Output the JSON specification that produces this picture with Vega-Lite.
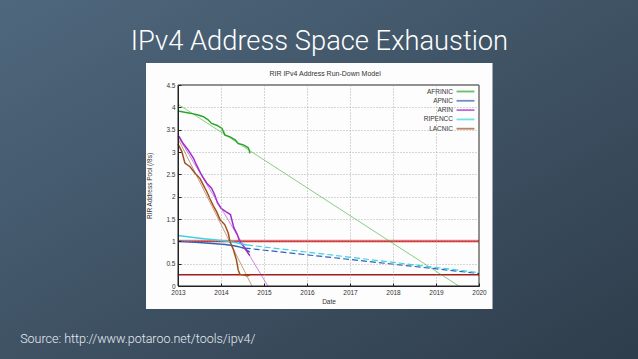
{
  "$schema": "https://vega.github.io/schema/vega-lite/v6.json",
  "width": 301,
  "height": 201,
  "autosize": "none",
  "padding": {"left": 178, "top": 85, "right": 159, "bottom": 73},
  "background": "#3e5366",
  "config": {
    "view": {"stroke": null, "fill": null},
    "font": "Liberation Sans",
    "axis": {
      "domainColor": "#222",
      "domainWidth": 1,
      "tickColor": "#222",
      "tickSize": -3,
      "labelFontSize": 6.5,
      "labelColor": "#333",
      "labelFont": "Liberation Sans",
      "labelOverlap": false,
      "labelFlush": false,
      "titleFont": "Liberation Sans",
      "titleFontSize": 6.5,
      "titleFontWeight": "normal",
      "titleColor": "#333",
      "grid": true,
      "gridColor": "#9a9a9a",
      "gridDash": [1, 2],
      "gridWidth": 0.8,
      "labelPadding": 4
    },
    "legend": {
      "symbolType": "M-4,0H4",
      "symbolSize": 20,
      "symbolStrokeWidth": 1.8,
      "rowPadding": 0.3,
      "labelAlign": "right",
      "labelOffset": -16,
      "labelFontSize": 6.5,
      "labelColor": "#333",
      "labelFont": "Liberation Sans",
      "padding": 0
    }
  },
  "datasets": {
    "actual": [
      {"series": "AFRINIC", "year": 2013.0, "pool": 3.92},
      {"series": "AFRINIC", "year": 2013.28, "pool": 3.87},
      {"series": "AFRINIC", "year": 2013.47, "pool": 3.83},
      {"series": "AFRINIC", "year": 2013.59, "pool": 3.79},
      {"series": "AFRINIC", "year": 2013.7, "pool": 3.72},
      {"series": "AFRINIC", "year": 2013.78, "pool": 3.64},
      {"series": "AFRINIC", "year": 2013.9, "pool": 3.6},
      {"series": "AFRINIC", "year": 2014.02, "pool": 3.53},
      {"series": "AFRINIC", "year": 2014.06, "pool": 3.45},
      {"series": "AFRINIC", "year": 2014.09, "pool": 3.38},
      {"series": "AFRINIC", "year": 2014.21, "pool": 3.34},
      {"series": "AFRINIC", "year": 2014.33, "pool": 3.27},
      {"series": "AFRINIC", "year": 2014.4, "pool": 3.19},
      {"series": "AFRINIC", "year": 2014.52, "pool": 3.16},
      {"series": "AFRINIC", "year": 2014.63, "pool": 3.1},
      {"series": "AFRINIC", "year": 2014.66, "pool": 3.03},
      {"series": "AFRINIC", "year": 2014.67, "pool": 2.97},
      {"series": "APNIC", "year": 2013.0, "pool": 1.0},
      {"series": "APNIC", "year": 2013.4, "pool": 0.98},
      {"series": "APNIC", "year": 2013.8, "pool": 0.95},
      {"series": "APNIC", "year": 2014.1, "pool": 0.93},
      {"series": "APNIC", "year": 2014.3, "pool": 0.9},
      {"series": "APNIC", "year": 2014.45, "pool": 0.87},
      {"series": "APNIC", "year": 2014.55, "pool": 0.84},
      {"series": "APNIC", "year": 2014.6, "pool": 0.8},
      {"series": "APNIC", "year": 2014.67, "pool": 0.76},
      {"series": "ARIN", "year": 2013.0, "pool": 3.36},
      {"series": "ARIN", "year": 2013.03, "pool": 3.34},
      {"series": "ARIN", "year": 2013.12, "pool": 3.19},
      {"series": "ARIN", "year": 2013.24, "pool": 3.04},
      {"series": "ARIN", "year": 2013.36, "pool": 2.86},
      {"series": "ARIN", "year": 2013.43, "pool": 2.71},
      {"series": "ARIN", "year": 2013.55, "pool": 2.48},
      {"series": "ARIN", "year": 2013.67, "pool": 2.3},
      {"series": "ARIN", "year": 2013.78, "pool": 2.19},
      {"series": "ARIN", "year": 2013.85, "pool": 2.05},
      {"series": "ARIN", "year": 2013.92, "pool": 1.86},
      {"series": "ARIN", "year": 2014.0, "pool": 1.74},
      {"series": "ARIN", "year": 2014.12, "pool": 1.66},
      {"series": "ARIN", "year": 2014.22, "pool": 1.6},
      {"series": "ARIN", "year": 2014.26, "pool": 1.45},
      {"series": "ARIN", "year": 2014.3, "pool": 1.3},
      {"series": "ARIN", "year": 2014.38, "pool": 1.15},
      {"series": "ARIN", "year": 2014.44, "pool": 0.98},
      {"series": "ARIN", "year": 2014.5, "pool": 0.92},
      {"series": "ARIN", "year": 2014.56, "pool": 0.84},
      {"series": "ARIN", "year": 2014.62, "pool": 0.75},
      {"series": "ARIN", "year": 2014.67, "pool": 0.68},
      {"series": "RIPENCC", "year": 2013.0, "pool": 1.13},
      {"series": "RIPENCC", "year": 2013.5, "pool": 1.07},
      {"series": "RIPENCC", "year": 2014.0, "pool": 1.02},
      {"series": "RIPENCC", "year": 2014.3, "pool": 0.98},
      {"series": "RIPENCC", "year": 2014.6, "pool": 0.92},
      {"series": "LACNIC", "year": 2013.0, "pool": 3.18},
      {"series": "LACNIC", "year": 2013.01, "pool": 3.16},
      {"series": "LACNIC", "year": 2013.09, "pool": 3.01},
      {"series": "LACNIC", "year": 2013.16, "pool": 2.75},
      {"series": "LACNIC", "year": 2013.28, "pool": 2.67},
      {"series": "LACNIC", "year": 2013.4, "pool": 2.52},
      {"series": "LACNIC", "year": 2013.51, "pool": 2.41},
      {"series": "LACNIC", "year": 2013.59, "pool": 2.26},
      {"series": "LACNIC", "year": 2013.67, "pool": 2.11},
      {"series": "LACNIC", "year": 2013.74, "pool": 1.96},
      {"series": "LACNIC", "year": 2013.82, "pool": 1.8},
      {"series": "LACNIC", "year": 2013.9, "pool": 1.66},
      {"series": "LACNIC", "year": 2013.98, "pool": 1.48},
      {"series": "LACNIC", "year": 2014.09, "pool": 1.37},
      {"series": "LACNIC", "year": 2014.17, "pool": 1.18},
      {"series": "LACNIC", "year": 2014.21, "pool": 0.99},
      {"series": "LACNIC", "year": 2014.29, "pool": 0.81},
      {"series": "LACNIC", "year": 2014.36, "pool": 0.58},
      {"series": "LACNIC", "year": 2014.4, "pool": 0.36},
      {"series": "LACNIC", "year": 2014.44, "pool": 0.26},
      {"series": "LACNIC", "year": 2014.52, "pool": 0.25},
      {"series": "LACNIC", "year": 2014.6, "pool": 0.23},
      {"series": "LACNIC", "year": 2014.67, "pool": 0.24}
    ],
    "fit": [
      {"series": "AFRINIC", "year": 2013.0, "pool": 4.07},
      {"series": "AFRINIC", "year": 2019.53, "pool": 0},
      {"series": "ARIN", "year": 2013.0, "pool": 3.35},
      {"series": "ARIN", "year": 2015.09, "pool": 0},
      {"series": "LACNIC", "year": 2013.0, "pool": 3.3},
      {"series": "LACNIC", "year": 2014.72, "pool": 0}
    ],
    "proj": [
      {"series": "APNIC", "year": 2014.55, "pool": 0.85},
      {"series": "APNIC", "year": 2020.0, "pool": 0.28},
      {"series": "RIPENCC", "year": 2014.6, "pool": 0.92},
      {"series": "RIPENCC", "year": 2020.0, "pool": 0.3}
    ]
  },
  "layer": [
    {
      "data": {"values": [{}]},
      "mark": {
        "type": "rect",
        "fill": {
          "gradient": "linear", "x1": 0, "y1": 0, "x2": 1, "y2": 1,
          "stops": [{"offset": 0, "color": "#50697f"}, {"offset": 1, "color": "#2d3b49"}]
        }
      },
      "encoding": {
        "x": {"datum": 2008.5, "type": "quantitative",
          "scale": {"domain": [2013, 2020], "nice": false, "zero": false}},
        "x2": {"datum": 2024.5},
        "y": {"datum": 6.8, "type": "quantitative",
          "scale": {"domain": [0, 4.5], "nice": false, "zero": false}},
        "y2": {"datum": -2.0}
      }
    },
    {
      "data": {"values": [{}]},
      "mark": {"type": "rect", "fill": "#fdfdfd"},
      "encoding": {
        "x": {"datum": 2012.256, "type": "quantitative"},
        "x2": {"datum": 2020.314},
        "y": {"datum": 4.992, "type": "quantitative"},
        "y2": {"datum": -0.515}
      }
    },
    {
      "data": {"values": [{"level": 1}]},
      "mark": {"type": "rule", "color": "#f6c6c6", "strokeWidth": 3.5},
      "encoding": {"y": {"field": "level", "type": "quantitative"}}
    },
    {
      "data": {"values": [{"level": 1}]},
      "mark": {"type": "rule", "color": "#d62222", "strokeWidth": 1.5},
      "encoding": {"y": {"field": "level", "type": "quantitative"}}
    },
    {
      "data": {"values": [{"level": 0.25}]},
      "mark": {"type": "rule", "color": "#a31c1c", "strokeWidth": 1.5},
      "encoding": {"y": {"field": "level", "type": "quantitative"}}
    },
    {
      "data": {"name": "fit"},
      "mark": {"type": "line", "strokeWidth": 0.8, "opacity": 0.7},
      "encoding": {
        "x": {"field": "year", "type": "quantitative"},
        "y": {"field": "pool", "type": "quantitative"},
        "color": {"field": "series", "type": "nominal",
          "scale": {"domain": ["AFRINIC", "APNIC", "ARIN", "RIPENCC", "LACNIC"], "range": ["#2aa82a", "#2f62bb", "#a42ccc", "#3ad4e6", "#a0501e"]},
          "legend": {"title": null, "orient": "none", "legendX": 284, "legendY": 3}}
      }
    },
    {
      "data": {"name": "proj"},
      "mark": {"type": "line", "strokeWidth": 1.2, "strokeDash": [6, 3]},
      "encoding": {
        "x": {"field": "year", "type": "quantitative"},
        "y": {"field": "pool", "type": "quantitative"},
        "color": {"field": "series", "type": "nominal",
          "legend": {"title": null, "orient": "none", "legendX": 284, "legendY": 3}}
      }
    },
    {
      "data": {"name": "actual"},
      "mark": {"type": "line", "strokeWidth": 1.5},
      "encoding": {
        "x": {"field": "year", "type": "quantitative",
          "axis": {"title": "Date", "zindex": 1, "grid": true, "labelFlush": false, "values": [2013, 2014, 2015, 2016, 2017, 2018, 2019, 2020], "format": "d", "labelPadding": 6.5, "titlePadding": 2}},
        "y": {"field": "pool", "type": "quantitative",
          "axis": {"title": "RIR Address Pool (/8s)", "zindex": 1, "grid": true, "labelOverlap": false, "labelFlush": false, "tickCount": 10, "format": ".1~f", "values": [0, 0.5, 1, 1.5, 2, 2.5, 3, 3.5, 4, 4.5], "labelPadding": 6, "titlePadding": 13}},
        "color": {"field": "series", "type": "nominal",
          "legend": {"title": null, "orient": "none", "legendX": 284, "legendY": 3}}
      }
    },
    {
      "data": {"values": [{}]},
      "mark": {"type": "rect", "filled": false, "stroke": "#222", "strokeWidth": 1},
      "encoding": {
        "x": {"datum": 2013, "type": "quantitative"},
        "x2": {"datum": 2020},
        "y": {"datum": 0, "type": "quantitative"},
        "y2": {"datum": 4.5}
      }
    },
    {
      "data": {"values": [{"label": "IPv4 Address Space Exhaustion"}]},
      "mark": {"type": "text", "align": "center", "baseline": "alphabetic", "font": "Roboto", "fontWeight": 300, "fontSize": 27.3, "color": "#ffffff"},
      "encoding": {
        "text": {"field": "label"},
        "x": {"datum": 2016.29, "type": "quantitative"},
        "y": {"datum": 5.28, "type": "quantitative"}
      }
    },
    {
      "data": {"values": [{"label": "RIR IPv4 Address Run-Down Model"}]},
      "mark": {"type": "text", "align": "center", "baseline": "middle", "font": "Liberation Sans", "fontSize": 7, "color": "#333"},
      "encoding": {
        "text": {"field": "label"},
        "x": {"datum": 2016.42, "type": "quantitative"},
        "y": {"datum": 4.746, "type": "quantitative"}
      }
    },
    {
      "data": {"values": [{"label": "Source: http://www.potaroo.net/tools/ipv4/"}]},
      "mark": {"type": "text", "align": "left", "baseline": "middle", "font": "Roboto", "fontWeight": 300, "fontSize": 12.5, "color": "#e6ecf1"},
      "encoding": {
        "text": {"field": "label"},
        "x": {"datum": 2009.33, "type": "quantitative"},
        "y": {"datum": -1.19, "type": "quantitative"}
      }
    }
  ]
}
